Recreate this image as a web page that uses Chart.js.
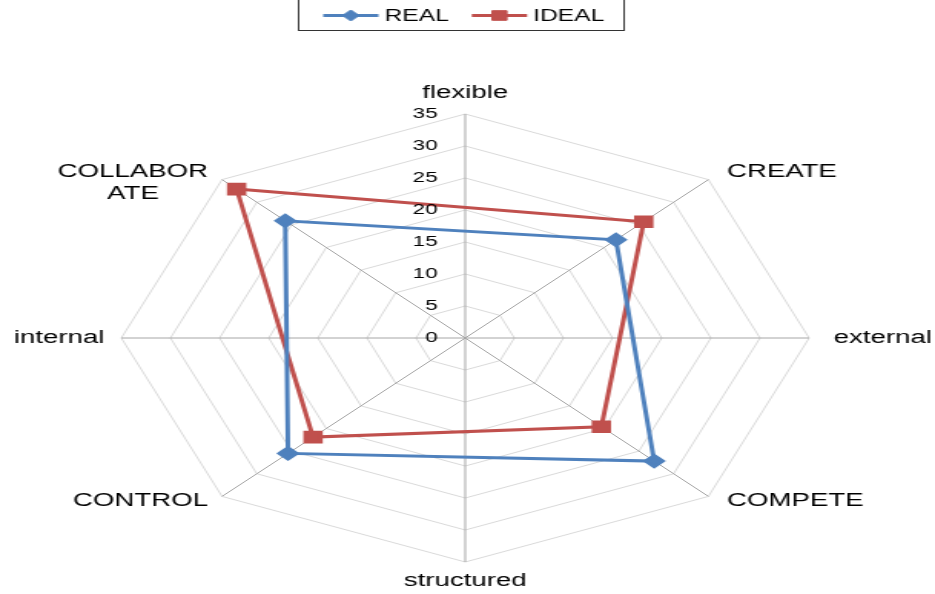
<!DOCTYPE html>
<html>
<head>
<meta charset="utf-8">
<script src="https://cdn.jsdelivr.net/npm/chart.js@4/dist/chart.umd.min.js"></script>
<style>
  html, body { margin: 0; padding: 0; background: #fff; overflow: hidden; }
  #wrap { width: 609px; height: 594px; transform: scaleX(1.5353); transform-origin: 0 0; }
</style>
</head>
<body>
<div id="wrap"><canvas id="c" width="609" height="594"></canvas></div>
<script>
// Axes of the profile, clockwise from the top
const categories = ['flexible', 'CREATE', 'external', 'COMPETE', 'structured', 'CONTROL', 'internal', ['COLLABOR', 'ATE']];
// Scores only exist for the four culture types; the poles are left empty
const realValues  = [null, 21.7, null, 27.2, null, 25.5, null, 25.9];
const idealValues = [null, 25.7, null, 19.6, null, 21.9, null, 32.9];
const tickValues  = [0, 5, 10, 15, 20, 25, 30, 35];
const seriesNames = ['REAL', 'IDEAL'];

const FONT = '"Liberation Sans", Arial, sans-serif';

// Point labels, tick labels and a boxed legend drawn on top of the radar
const decorations = {
  id: 'decorations',
  afterDraw(chart) {
    const ctx = chart.ctx;
    const scale = chart.scales.r;
    const cx = scale.xCenter, cy = scale.yCenter;

    ctx.save();
    ctx.fillStyle = '#000';

    // tick labels, left of the vertical axis
    ctx.font = '14.5px ' + FONT;
    ctx.textAlign = 'right';
    ctx.textBaseline = 'middle';
    tickValues.forEach(v => {
      ctx.fillText(String(v), cx - 18, cy - scale.getDistanceFromCenterForValue(v));
    });

    // category labels
    ctx.font = '18px ' + FONT;
    ctx.textAlign = 'center';
    ctx.textBaseline = 'middle';
    const lineH = 22;
    chart.data.labels.forEach((lab, i) => {
      const lines = Array.isArray(lab) ? lab : [lab];
      const p = scale.getPointPosition(i, scale.drawingArea);
      const c = Math.cos(p.angle), s = Math.sin(p.angle);
      const w = Math.max(...lines.map(t => ctx.measureText(t).width));
      let bx, by; // centre of the first line
      if (Math.abs(c) < 0.1) {
        bx = p.x;
        by = s < 0 ? p.y - 21 : p.y + 19;
      } else if (Math.abs(s) < 0.1) {
        bx = c > 0 ? p.x + 16 + w / 2 : p.x - 11 - w / 2;
        by = p.y;
      } else {
        bx = c > 0 ? p.x + 12 + w / 2 : p.x - 9 - w / 2;
        by = s < 0 ? p.y - 8 : p.y + 5;
      }
      lines.forEach((t, k) => ctx.fillText(t, bx, by + k * lineH));
    });

    // legend box
    ctx.strokeStyle = '#333';
    ctx.lineWidth = 1;
    ctx.strokeRect(194.5, -10, 212, 40.5);

    ctx.font = '16px ' + FONT;
    ctx.textAlign = 'left';
    ctx.textBaseline = 'middle';
    let x = 210.5;
    const ly = 15.5;
    chart.data.datasets.forEach(ds => {
      ctx.strokeStyle = ds.borderColor;
      ctx.fillStyle = ds.borderColor;
      ctx.lineWidth = 3;
      ctx.beginPath();
      ctx.moveTo(x, ly);
      ctx.lineTo(x + 36, ly);
      ctx.stroke();
      ctx.lineWidth = 1;
      Chart.helpers.drawPoint(ctx, {
        pointStyle: ds.pointStyle, radius: ds.pointRadius, rotation: 0, borderWidth: 1
      }, x + 18, ly);
      ctx.fillStyle = '#000';
      ctx.fillText(ds.label, x + 40, ly + 1);
      x += 40 + ctx.measureText(ds.label).width + 15;
    });
    ctx.restore();
  }
};

new Chart(document.getElementById('c'), {
  type: 'radar',
  data: {
    labels: categories,
    datasets: [
      {
        label: seriesNames[0],
        data: realValues,
        borderColor: '#4F81BD',
        backgroundColor: '#4F81BD',
        pointBackgroundColor: '#4F81BD',
        pointBorderColor: '#4F81BD',
        borderWidth: 3,
        pointStyle: 'rectRot',
        pointRadius: 5.5,
        fill: false,
        spanGaps: true
      },
      {
        label: seriesNames[1],
        data: idealValues,
        borderColor: '#C0504D',
        backgroundColor: '#C0504D',
        pointBackgroundColor: '#C0504D',
        pointBorderColor: '#C0504D',
        borderWidth: 3,
        pointStyle: 'rect',
        pointRadius: 6.8,
        fill: false,
        spanGaps: true
      }
    ]
  },
  options: {
    responsive: false,
    animation: false,
    devicePixelRatio: 1,
    layout: { padding: { left: 79, right: 82, top: 114, bottom: 32 } },
    elements: { line: { tension: 0 } },
    plugins: { legend: { display: false }, tooltip: { enabled: false } },
    scales: {
      r: {
        min: 0,
        max: 35,
        ticks: { stepSize: 5, display: false },
        pointLabels: { display: false },
        grid: { color: '#d9d9d9', lineWidth: 1 },
        angleLines: { color: '#a6a6a6', lineWidth: 1 }
      }
    }
  },
  plugins: [decorations]
});
</script>
</body>
</html>
